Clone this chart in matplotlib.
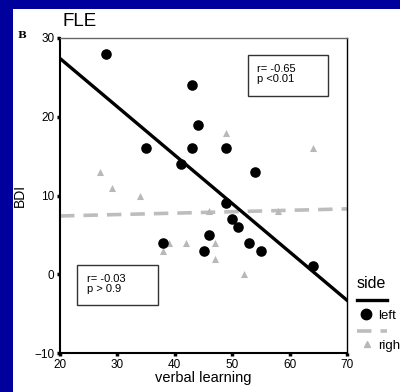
import matplotlib
matplotlib.use('Agg')

import matplotlib.pyplot as plt
from matplotlib.lines import Line2D
from matplotlib.patches import Rectangle

# data
left_x = [28, 35, 38, 41, 43, 43, 44, 45, 46, 49, 49, 50, 51, 53, 54, 55, 64]
left_y = [28, 16, 4, 14, 24, 16, 19, 3, 5, 16, 9, 7, 6, 4, 13, 3, 1]
right_x = [27, 29, 34, 38, 39, 42, 46, 47, 47, 49, 52, 58, 64]
right_y = [13, 11, 10, 3, 4, 4, 8, 4, 2, 18, 0, 8, 16]
fit_x = [20, 70]
fit_left = [27.4, -3.3]
fit_right = [7.4, 8.3]
x_ticks = [20, 30, 40, 50, 60, 70]
y_ticks = [-10, 0, 10, 20, 30]
stats_left = "r= -0.65\np <0.01"
stats_right = "r= -0.03\np > 0.9"

plt.rcParams['font.family'] = ['Liberation Sans', 'DejaVu Sans']

BLUE = "#00009c"
GRAY = "#bdbdbd"

fig = plt.figure(figsize=(4.0, 3.92), dpi=100, facecolor=BLUE)
# white slide panel
fig.add_artist(Rectangle((13 / 400, 0), 1, 1 - 9 / 392, transform=fig.transFigure,
                         facecolor="white", edgecolor="none", zorder=0))

ax = fig.add_axes([60 / 400, 1 - 353 / 392, 287 / 400, 315 / 392])
ax.set_facecolor("white")

ax.plot(fit_x, fit_right, color=GRAY, linewidth=2.6, linestyle=(0, (4, 2.5)), zorder=2)
ax.scatter(right_x, right_y, marker="^", s=26, color="#b8b8b8", linewidths=0, zorder=3)
ax.plot(fit_x, fit_left, color="black", linewidth=2.4, zorder=4)
ax.scatter(left_x, left_y, marker="o", s=58, color="black", linewidths=0, zorder=5)

ax.set_xlim(20, 70)
ax.set_ylim(-10, 30)
ax.set_xticks(x_ticks)
ax.set_yticks(y_ticks)
ax.tick_params(direction="out", length=2.2, width=2.5, labelsize=8.5, pad=2)
for s in ["left", "bottom"]:
    ax.spines[s].set_linewidth(1.5)
ax.spines["top"].set_linewidth(1.0)
ax.spines["top"].set_color("#666666")
ax.spines["right"].set_linewidth(1.0)

ax.set_xlabel("verbal learning", fontsize=10.5, labelpad=0)
ax.set_ylabel("BDI", fontsize=10, labelpad=5)

# stats boxes
for (x0, x1, y0, y1), tx, ty, txt in [((52.7, 66.7, 22.6, 27.8), 54.4, 25.4, stats_left),
                                      ((23.0, 37.0, -3.9, 1.2), 24.7, -1.2, stats_right)]:
    ax.add_patch(Rectangle((x0, y0), x1 - x0, y1 - y0, facecolor="white",
                           edgecolor="#333333", lw=1.0, zorder=6))
    ax.text(tx, ty, txt, fontsize=8, va="center", ha="left", linespacing=1.05, zorder=7)

fig.text(62 / 400, 1 - 21 / 392, "FLE", fontsize=13.5, va="center", ha="left")
fig.text(17 / 400, 1 - 35 / 392, "B", fontsize=7.5, fontweight="bold", family="DejaVu Serif",
         va="center", ha="left")

# legend drawn by hand outside the axes
fig.text(357 / 400, 1 - 283 / 392, "side", fontsize=11.5, va="center", ha="left")
fig.add_artist(Line2D([357 / 400, 387 / 400], [1 - 300 / 392] * 2, transform=fig.transFigure,
                      color="black", linewidth=2.4))
fig.add_artist(Line2D([366 / 400], [1 - 314 / 392], transform=fig.transFigure, marker="o",
                      markersize=7.5, color="black", linestyle="none"))
fig.text(378 / 400, 1 - 316 / 392, "left", fontsize=9.5, va="center", ha="left")
fig.add_artist(Line2D([357 / 400, 387 / 400], [1 - 331 / 392] * 2, transform=fig.transFigure,
                      color=GRAY, linewidth=2.6, linestyle=(0, (4, 2.5))))
fig.add_artist(Line2D([367 / 400], [1 - 344 / 392], transform=fig.transFigure, marker="^",
                      markersize=5, color="#b8b8b8", linestyle="none"))
fig.text(378 / 400, 1 - 346 / 392, "right", fontsize=9.5, va="center", ha="left")

fig.savefig("out.png", dpi=100, facecolor=BLUE)
